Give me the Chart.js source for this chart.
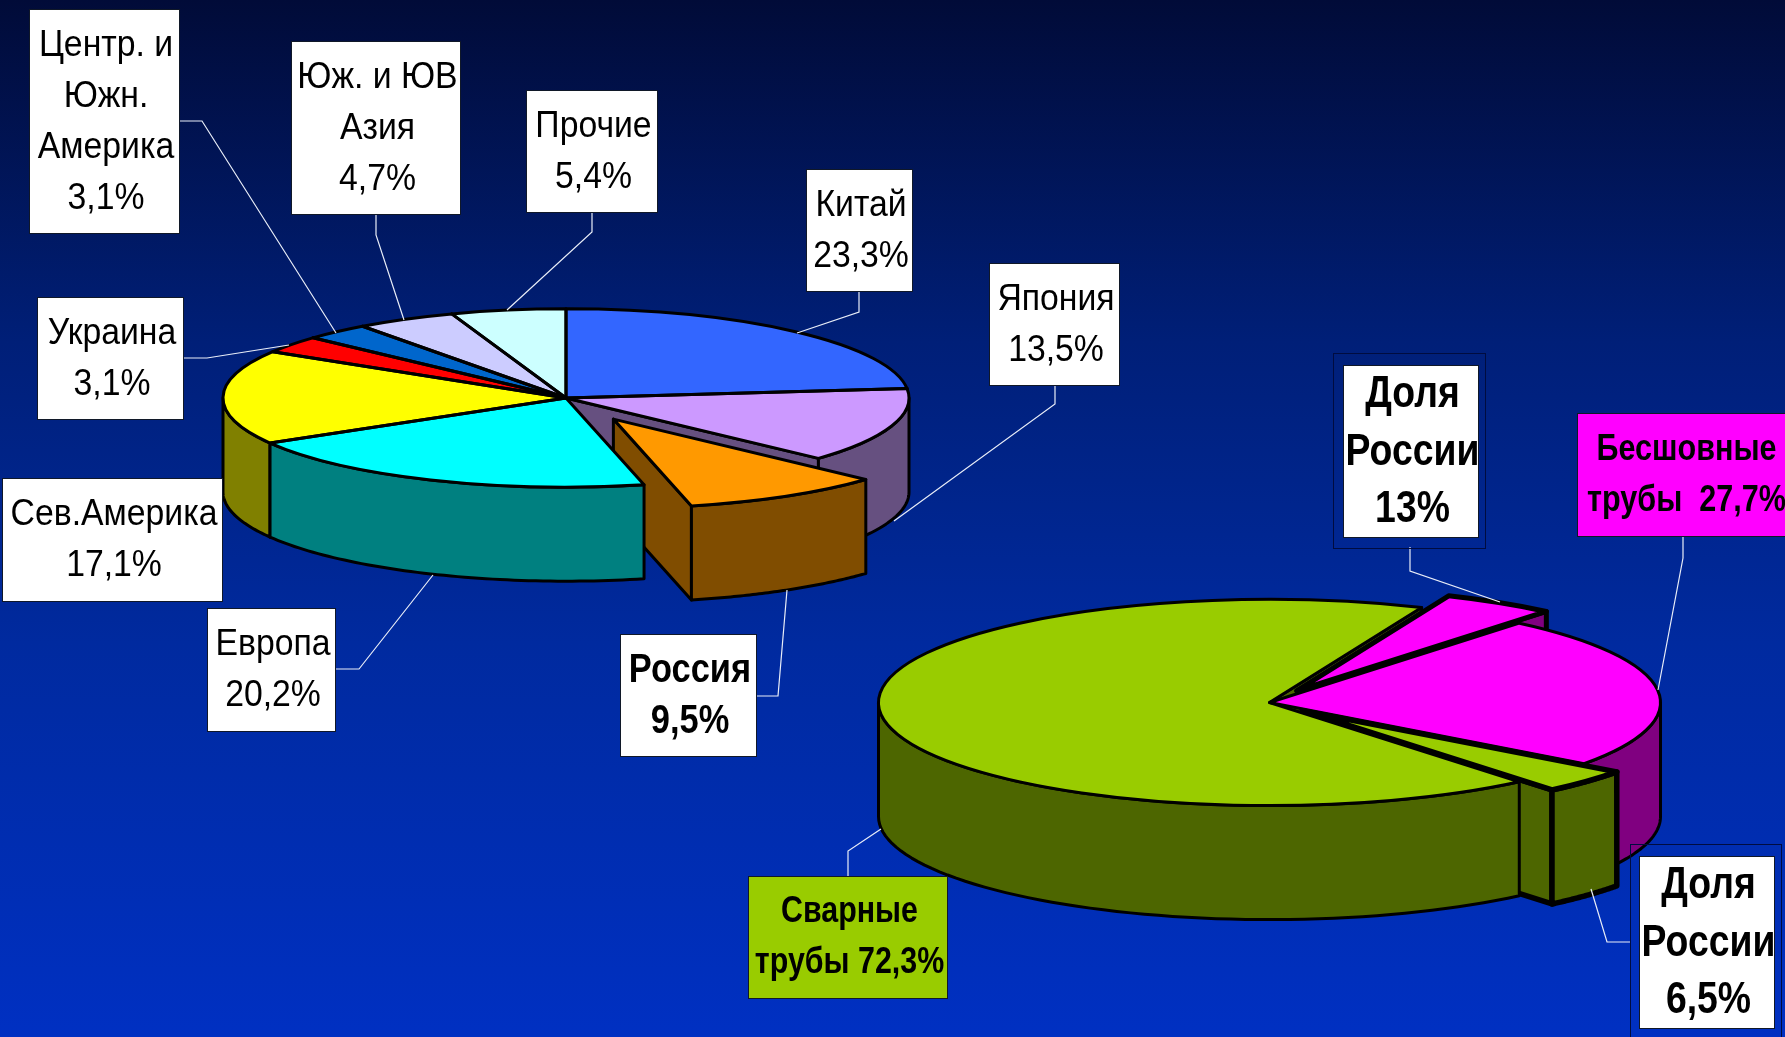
<!DOCTYPE html>
<html>
<head>
<meta charset="utf-8">
<title>Мировое производство труб</title>
<script src="https://cdn.jsdelivr.net/npm/chart.js@4/dist/chart.umd.js"></script>
<style>
  html, body { margin: 0; padding: 0; overflow: hidden; }
  body { width: 1785px; height: 1037px; background: linear-gradient(to bottom, #010b38 0%, #001f78 33%, #002a9f 62%, #0030c2 100%); }
  canvas { position: absolute; left: 0; top: 0; }
</style>
</head>
<body>
<canvas id="worldPie" width="1785" height="1037"></canvas>
<canvas id="pipePie" width="1785" height="1037"></canvas>
<script>
// left pie: share by country, clockwise from the top
const worldCategories = ['Китай', 'Япония', 'Россия', 'Европа', 'Сев.Америка', 'Украина', 'Центр. и Южн. Америка', 'Юж. и ЮВ Азия', 'Прочие'];
const worldValues = [23.3, 13.5, 9.5, 20.2, 17.1, 3.1, 3.1, 4.7, 5.4];
const worldColors = ['#3366ff', '#cc99ff', '#ff9900', '#00ffff', '#ffff00', '#ff0000', '#0066cc', '#ccccff', '#ccffff'];
const worldWalls = ['#1a3380', '#665080', '#804d00', '#008080', '#808000', '#800000', '#003366', '#666680', '#668080'];
const worldExplode = [0, 0, 94, 0, 0, 0, 0, 0, 0];

// right pie: slice sizes, the labels carry the printed figures
const pipeCategories = ['Бесшовные, доля России', 'Бесшовные', 'Сварные, доля России', 'Сварные'];
const pipeValues = [4.67, 24.09, 3.85, 67.39];
const pipeColors = ['#ff00ff', '#ff00ff', '#99cc00', '#99cc00'];
const pipeWalls = ['#800080', '#800080', '#4d6600', '#4d6600'];
const pipeExplode = [52, 0, 45, 0];
const pipeBorders = [5, 3, 5.5, 3];

const FONT = '"Liberation Sans", Arial, sans-serif';

// callouts: box x0,y0,x1,y1 and the leader polyline
const worldLabels = [
  { text: ['Центр. и', 'Южн.', 'Америка', '3,1%'], box: [29, 9, 180, 234], leader: [[180, 121], [202, 121], [336, 333]] },
  { text: ['Юж. и ЮВ', 'Азия', '4,7%'], box: [291, 41, 461, 215], leader: [[376, 215], [376, 235], [404, 320]] },
  { text: ['Прочие', '5,4%'], box: [526, 90, 658, 213], leader: [[592, 213], [592, 232], [507, 310]] },
  { text: ['Китай', '23,3%'], box: [806, 169, 913, 292], leader: [[859, 292], [859, 312], [797, 333]] },
  { text: ['Япония', '13,5%'], box: [989, 263, 1120, 386], leader: [[1055, 386], [1055, 404], [894, 521]] },
  { text: ['Украина', '3,1%'], box: [37, 297, 184, 420], leader: [[184, 358], [207, 358], [289, 345]] },
  { text: ['Сев.Америка', '17,1%'], box: [2, 478, 223, 602], leader: [] },
  { text: ['Европа', '20,2%'], box: [207, 608, 336, 732], leader: [[336, 669], [359, 669], [433, 575]] },
  { text: ['Россия', '9,5%'], box: [620, 634, 757, 757], leader: [[757, 696], [778, 696], [787, 590]], bold: true, size: 41 }
];
const pipeLabels = [
  { text: ['Доля', 'России', '13%'], box: [1343, 365, 1479, 538], frame: [1333, 353, 1486, 549], leader: [[1410, 547], [1410, 571], [1500, 602]], bold: true, size: 44.5, line: 57.5 },
  { text: ['Бесшовные', 'трубы  27,7%'], box: [1577, 413, 1793, 537], fill: '#ff00ff', leader: [[1683, 537], [1683, 558], [1658, 690]], bold: true, size: 36.4 },
  { text: ['Сварные', 'трубы 72,3%'], box: [748, 876, 948, 999], fill: '#99cc00', leader: [[848, 876], [848, 851], [881, 829]], bold: true, size: 36.2 },
  { text: ['Доля', 'России', '6,5%'], box: [1639, 856, 1775, 1029], frame: [1630, 844, 1782, 1045], leader: [[1591, 889], [1607, 942], [1630, 942]], bold: true, size: 44.5, line: 57.5 }
];

function rimFront(arc) {
  // how far towards the viewer the slice reaches, decides painting order
  const s = arc.startAngle, e = arc.endAngle;
  for (const a of [Math.PI / 2, 2.5 * Math.PI]) {
    if (s <= a && e >= a) return 1;
  }
  return Math.max(Math.sin(s), Math.sin(e));
}

function drawWalls(ctx, arc, cy, tilt, depth, color, lineWidth) {
  const pt = (a, r) => [arc.x + r * Math.cos(a), cy + tilt * (arc.y - cy + r * Math.sin(a))];
  const r = arc.outerRadius;
  const poly = (pts) => {
    ctx.beginPath();
    pts.forEach((p, i) => (i ? ctx.lineTo(p[0], p[1]) : ctx.moveTo(p[0], p[1])));
    ctx.closePath();
    ctx.fillStyle = color;
    ctx.fill();
    ctx.stroke();
  };
  const radial = (a) => {
    const c = pt(a, 0), o = pt(a, r);
    poly([c, o, [o[0], o[1] + depth], [c[0], c[1] + depth]]);
  };
  ctx.save();
  ctx.strokeStyle = '#000';
  ctx.lineWidth = lineWidth;
  ctx.lineJoin = 'round';
  if (Math.cos(arc.startAngle) < 0) radial(arc.startAngle);
  if (Math.cos(arc.endAngle) > 0) radial(arc.endAngle);
  // outer rim, only the part facing the viewer
  for (const base of [0, 2 * Math.PI]) {
    const from = Math.max(arc.startAngle, base);
    const to = Math.min(arc.endAngle, base + Math.PI);
    if (to <= from) continue;
    const top = [], bottom = [];
    for (let i = 0; i <= 60; i++) {
      const p = pt(from + (to - from) * i / 60, r);
      top.push(p);
      bottom.unshift([p[0], p[1] + depth]);
    }
    poly(top.concat(bottom));
  }
  ctx.restore();
}

function drawLabels(ctx, labels) {
  for (const l of labels) {
    ctx.save();
    ctx.strokeStyle = '#e9eef8';
    ctx.lineWidth = 1.2;
    if (l.leader.length) {
      ctx.beginPath();
      l.leader.forEach((p, i) => (i ? ctx.lineTo(p[0], p[1]) : ctx.moveTo(p[0], p[1])));
      ctx.stroke();
    }
    const [x0, y0, x1, y1] = l.box;
    ctx.fillStyle = l.fill || '#fff';
    ctx.fillRect(x0, y0, x1 - x0, y1 - y0);
    ctx.strokeStyle = '#101828';
    ctx.lineWidth = 1;
    ctx.strokeRect(x0 + 0.5, y0 + 0.5, x1 - x0 - 1, y1 - y0 - 1);
    if (l.frame) {
      ctx.strokeStyle = '#000c40';
      ctx.strokeRect(l.frame[0] + 0.5, l.frame[1] + 0.5, l.frame[2] - l.frame[0] - 1, l.frame[3] - l.frame[1] - 1);
    }
    const size = l.size || 37.5;
    const step = l.line || 51;
    ctx.fillStyle = '#000';
    ctx.textAlign = 'center';
    ctx.textBaseline = 'alphabetic';
    ctx.font = (l.bold ? 'bold ' : '') + size + 'px ' + FONT;
    l.text.forEach((line, i) => {
      const y = (y0 + y1) / 2 + (i - (l.text.length - 1) / 2) * step + size * 0.36 - 3;
      ctx.save();
      ctx.translate((x0 + x1) / 2 + 1.5, y);
      ctx.scale(l.bold ? 0.84 : 0.9, 1);
      ctx.fillText(line, 0, 0);
      ctx.restore();
    });
    ctx.restore();
  }
}

// flat Chart.js pie turned into a tilted disc with side walls
function tiltPlugin(cfg) {
  return {
    id: 'tilt3d',
    afterDatasetsUpdate(chart) {
      chart.getDatasetMeta(0).data.forEach((arc, i) => {
        const mid = (arc.startAngle + arc.endAngle) / 2;
        arc.x += Math.cos(mid) * cfg.explode[i];
        arc.y += Math.sin(mid) * cfg.explode[i];
      });
    },
    beforeDatasetsDraw(chart) {
      const ctx = chart.ctx;
      const arcs = chart.getDatasetMeta(0).data;
      const order = arcs.map((a, i) => i).sort((a, b) => rimFront(arcs[a]) - rimFront(arcs[b]));
      for (const i of order) {
        drawWalls(ctx, arcs[i], cfg.cy, cfg.tilt, cfg.depth, cfg.walls[i], cfg.borders ? cfg.borders[i] : 3);
      }
      ctx.save();
      ctx.translate(0, cfg.cy);
      ctx.scale(1, cfg.tilt);
      ctx.translate(0, -cfg.cy);
    },
    afterDatasetsDraw(chart) {
      const ctx = chart.ctx;
      ctx.restore();
      // outlines after the restore so the pen keeps an even width
      const arcs = chart.getDatasetMeta(0).data;
      const order = arcs.map((a, i) => i);
      if (cfg.borders) order.sort((a, b) => cfg.borders[a] - cfg.borders[b]);
      for (const i of order) {
        const arc = arcs[i];
        ctx.save();
        ctx.save();
        ctx.translate(0, cfg.cy);
        ctx.scale(1, cfg.tilt);
        ctx.translate(0, -cfg.cy);
        ctx.beginPath();
        ctx.moveTo(arc.x, arc.y);
        ctx.arc(arc.x, arc.y, arc.outerRadius, arc.startAngle, arc.endAngle);
        ctx.closePath();
        ctx.restore();
        ctx.strokeStyle = '#000';
        ctx.lineJoin = 'round';
        ctx.lineWidth = cfg.borders ? cfg.borders[i] : 3;
        ctx.stroke();
        ctx.restore();
      }
    },
    afterDraw(chart) {
      drawLabels(chart.ctx, cfg.labels);
    }
  };
}

function makePie(id, categories, values, colors, rotation, cfg) {
  const W = 1785, H = 1037;
  return new Chart(document.getElementById(id), {
    type: 'pie',
    data: {
      labels: categories,
      datasets: [{ data: values, backgroundColor: colors, borderWidth: 0 }]
    },
    options: {
      responsive: false,
      animation: false,
      events: [],
      rotation: rotation,
      radius: cfg.radius,
      layout: {
        padding: {
          left: Math.max(2 * cfg.cx - W, 0),
          right: Math.max(W - 2 * cfg.cx, 0),
          top: Math.max(2 * cfg.cy - H, 0),
          bottom: Math.max(H - 2 * cfg.cy, 0)
        }
      },
      plugins: { legend: { display: false }, tooltip: { enabled: false } }
    },
    plugins: [tiltPlugin(cfg)]
  });
}

makePie('worldPie', worldCategories, worldValues, worldColors, 0, {
  cx: 566, cy: 398, radius: 343, tilt: 0.26, depth: 94,
  walls: worldWalls, explode: worldExplode, labels: worldLabels
});

makePie('pipePie', pipeCategories, pipeValues, pipeColors, 22.9, {
  cx: 1269.5, cy: 702.5, radius: 391, tilt: 0.2637, depth: 114,
  walls: pipeWalls, explode: pipeExplode, borders: pipeBorders, labels: pipeLabels
});
</script>
</body>
</html>
